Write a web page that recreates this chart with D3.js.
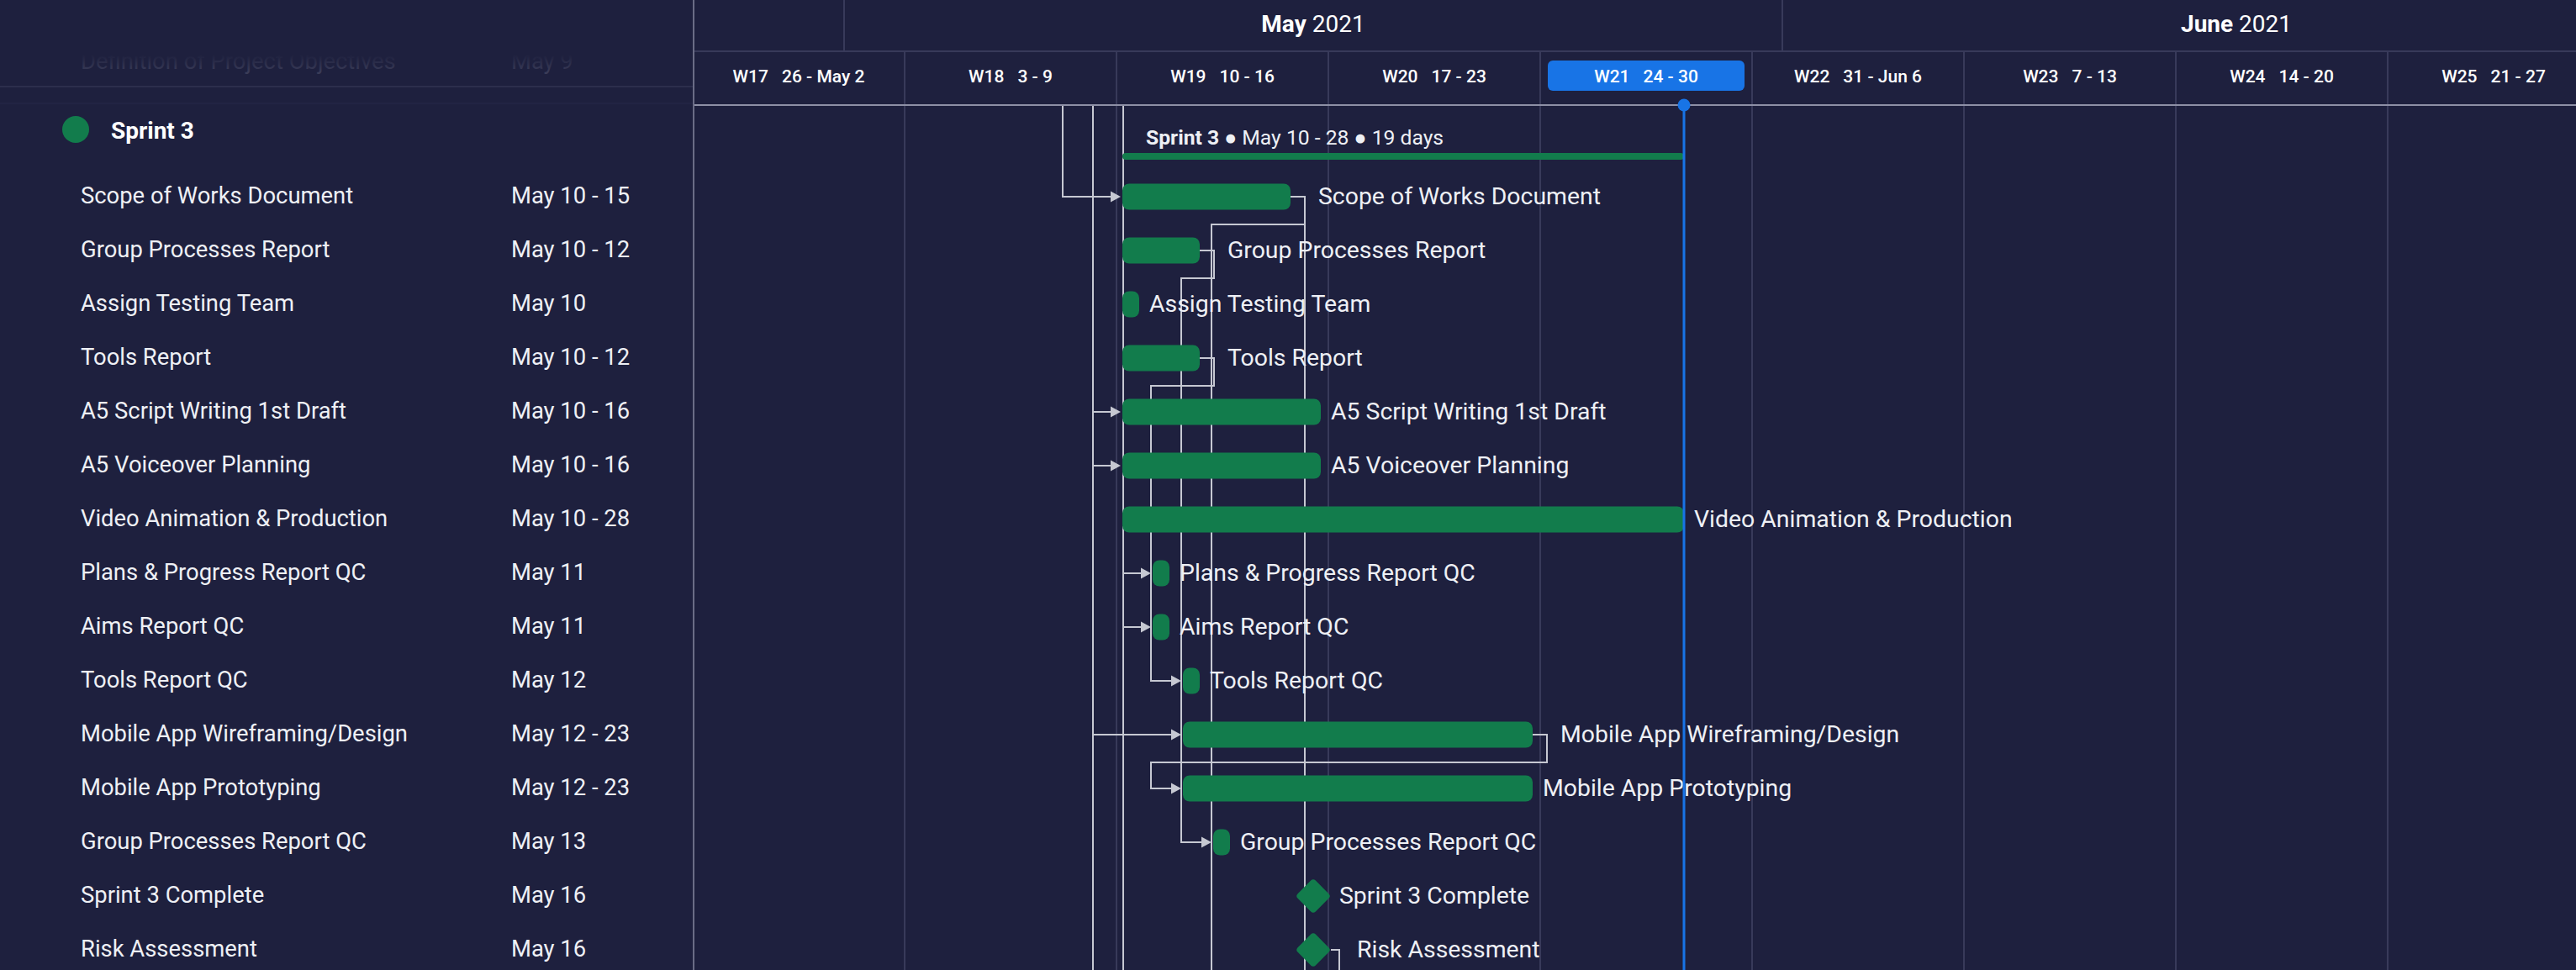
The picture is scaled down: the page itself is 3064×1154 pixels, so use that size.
<!DOCTYPE html>
<html>
<head>
<meta charset="utf-8">
<script src="https://cdn.jsdelivr.net/npm/d3@7/dist/d3.min.js"></script>
<style>
  html, body { margin:0; padding:0; background:#1e203e; overflow:hidden; }
  svg { display:block; font-family: Roboto, "Noto Sans", sans-serif; }
</style>
</head>
<body>
<svg id="gantt" width="3064" height="1154"></svg>
<script>
// ---------------- DATA ----------------
const groupName  = "Sprint 3";
const groupStart = "2021-05-10";
const groupEnd   = "2021-05-28";

const taskNames = [
  "Scope of Works Document", "Group Processes Report", "Assign Testing Team", "Tools Report",
  "A5 Script Writing 1st Draft", "A5 Voiceover Planning", "Video Animation & Production",
  "Plans & Progress Report QC", "Aims Report QC", "Tools Report QC",
  "Mobile App Wireframing/Design", "Mobile App Prototyping", "Group Processes Report QC",
  "Sprint 3 Complete", "Risk Assessment"
];
const taskStarts = [
  "2021-05-10", "2021-05-10", "2021-05-10", "2021-05-10",
  "2021-05-10", "2021-05-10", "2021-05-10",
  "2021-05-11", "2021-05-11", "2021-05-12",
  "2021-05-12", "2021-05-12", "2021-05-13",
  "2021-05-16", "2021-05-16"
];
const taskEnds = [
  "2021-05-15", "2021-05-12", "2021-05-10", "2021-05-12",
  "2021-05-16", "2021-05-16", "2021-05-28",
  "2021-05-11", "2021-05-11", "2021-05-12",
  "2021-05-23", "2021-05-23", "2021-05-13",
  "2021-05-16", "2021-05-16"
];
const taskKinds = [
  "task", "task", "task", "task", "task", "task", "task", "task", "task", "task",
  "task", "task", "task", "milestone", "milestone"
];

// rows scrolled out of view: previous sprint (above) and later tasks (below)
const aboveIds   = ["P1", "P2", "P3"];
const aboveNames = ["", "", "Definition of Project Objectives"];
const aboveEnds  = ["2021-05-07", "2021-05-08", "2021-05-09"];
const belowIds    = ["N1", "N2", "N3", "N4", "N5"];
const belowStarts = ["2021-05-17", "2021-05-17", "2021-05-17", "2021-05-14", "2021-05-18"];

// dependencies (finish -> start)
const linkFrom = ["P1", "P2", "P2", "P2", "P2", "P3", "P3", "P3",
  "Scope of Works Document", "Scope of Works Document", "Group Processes Report",
  "Tools Report", "Mobile App Wireframing/Design", "Risk Assessment"];
const linkTo = ["Scope of Works Document", "A5 Script Writing 1st Draft", "A5 Voiceover Planning",
  "Mobile App Wireframing/Design", "N1", "Plans & Progress Report QC", "Aims Report QC", "N2",
  "N3", "N4", "Group Processes Report QC",
  "Tools Report QC", "Mobile App Prototyping", "N5"];

const timelineStart = "2021-04-26";
const timelineEnd   = "2021-06-28";
const today = "2021-05-28T18:00";

// ---------------- SETUP ----------------
const W = 3064, H = 1154;
const panelW = 824;
const C = {
  bg: "#1e203e", grid: "#383a5a", headLine: "#8e90a6", green: "#127c4c",
  blue: "#1874e6", link: "#c6c8d2", text: "#eef0f5"
};
const parse = d3.utcParse("%Y-%m-%d");
const parseT = d3.utcParse("%Y-%m-%dT%H:%M");
const x = d3.scaleUtc().domain([parse(timelineStart), parse(timelineEnd)])
  .range([panelW, panelW + 63 * 36]);

const rowH = 64;
const taskY = i => 234 + rowH * i;
const groupY = 154;
const aboveY = k => 72 - rowH * (aboveIds.length - 1 - k);
const belowY = k => taskY(taskNames.length + 2 + k);

const fmtDay = d3.utcFormat("%-d"), fmtMonDay = d3.utcFormat("%b %-d");
function rangeLabel(s, e) {
  if (+s === +e) return fmtMonDay(s);
  if (s.getUTCMonth() === e.getUTCMonth()) return fmtMonDay(s) + " - " + fmtDay(e);
  return fmtMonDay(s) + " - " + fmtMonDay(e);
}

// node table
const nodes = new Map();
taskNames.forEach((n, i) => {
  const s = parse(taskStarts[i]), e = parse(taskEnds[i]);
  const ms = taskKinds[i] === "milestone";
  let x0, x1;
  if (ms) { const c = (x(s) + x(d3.utcDay.offset(s, 1))) / 2; x0 = c - 21; x1 = c + 21; }
  else { x0 = x(s) + 7; x1 = x(d3.utcDay.offset(e, 1)) - 9; }
  nodes.set(n, {name: n, s, e, ms, x0, x1, y: taskY(i), i});
});
aboveIds.forEach((id, k) => {
  const e = parse(aboveEnds[k]);
  nodes.set(id, {name: aboveNames[k], s: e, e, ms: false, x0: x(e) + 7, x1: x(d3.utcDay.offset(e, 1)) - 9, y: aboveY(k)});
});
belowIds.forEach((id, k) => {
  const s = parse(belowStarts[k]);
  nodes.set(id, {s, e: s, ms: false, x0: x(s) + 7, x1: x(d3.utcDay.offset(s, 1)) - 9, y: belowY(k)});
});
const hasSucc = new Set(linkFrom);

const svg = d3.select("#gantt");
svg.append("rect").attr("width", W).attr("height", H).attr("fill", C.bg);
const defs = svg.append("defs");
defs.append("clipPath").attr("id", "bodyClip").append("rect")
  .attr("x", panelW + 2).attr("y", 126).attr("width", W - panelW - 2).attr("height", H - 126);
defs.append("clipPath").attr("id", "headClip").append("rect")
  .attr("x", panelW + 2).attr("y", 0).attr("width", W - panelW - 2).attr("height", 126);

// ---------------- BODY ----------------
const body = svg.append("g").attr("clip-path", "url(#bodyClip)");
const weeks = d3.utcMonday.range(parse(timelineStart), parse(timelineEnd));

body.selectAll("line.grid").data(weeks).join("line").attr("class", "grid")
  .attr("x1", d => x(d)).attr("x2", d => x(d)).attr("y1", 125).attr("y2", H)
  .attr("stroke", C.grid).attr("stroke-width", 2);

// dependency lines
const links = linkFrom.map((f, i) => ({src: nodes.get(f), dst: nodes.get(linkTo[i])}));
function linkPath(l) {
  const s = l.src, t = l.dst;
  const lane = s.x1 + (s.ms ? 10 : 17);
  const tip = t.x0 - 2, base = tip - 11;
  if (t.x0 - lane >= 20)
    return `M${s.x1},${s.y}H${lane}V${t.y}H${base}`;
  const back = t.x0 - 38, mid = s.y + 33;
  return `M${s.x1},${s.y}H${lane}V${mid}H${back}V${t.y}H${base}`;
}
body.selectAll("path.link").data(links).join("path").attr("class", "link")
  .attr("d", linkPath).attr("fill", "none").attr("stroke", C.link).attr("stroke-width", 2);
body.selectAll("path.arrow").data(links).join("path").attr("class", "arrow")
  .attr("d", l => { const tip = l.dst.x0 - 2, y = l.dst.y; return `M${tip},${y}L${tip - 12},${y - 6.5}L${tip - 12},${y + 6.5}Z`; })
  .attr("fill", C.link);

// group summary
const gs = parse(groupStart), ge = parse(groupEnd);
const gx0 = x(gs) + 7, gx1 = x(d3.utcDay.offset(ge, 1)) - 9;
body.append("rect").attr("x", gx0).attr("y", 182).attr("width", gx1 - gx0).attr("height", 8)
  .attr("rx", 4).attr("fill", C.green);
const gText = body.append("text").attr("x", gx0 + 28).attr("y", 163).attr("dy", "0.35em")
  .attr("fill", C.text).attr("font-size", 24.7);
gText.append("tspan").attr("font-weight", 700).text(groupName);
gText.append("tspan").text(" \u25CF " + rangeLabel(gs, ge) + " \u25CF " + (d3.utcDay.count(gs, ge) + 1) + " days")
  .attr("font-weight", 400);

// bars
const taskNodes = taskNames.map(n => nodes.get(n));
body.selectAll("rect.bar").data(taskNodes.filter(d => !d.ms)).join("rect").attr("class", "bar")
  .attr("x", d => d.x0).attr("y", d => d.y - 15.5).attr("width", d => d.x1 - d.x0).attr("height", 31)
  .attr("rx", 8).attr("fill", C.green);
body.selectAll("rect.ms").data(taskNodes.filter(d => d.ms)).join("rect").attr("class", "ms")
  .attr("x", -15).attr("y", -15).attr("width", 30).attr("height", 30).attr("rx", 4)
  .attr("transform", d => `translate(${(d.x0 + d.x1) / 2},${d.y}) rotate(45)`)
  .attr("fill", C.green);
body.selectAll("text.lbl").data(taskNodes).join("text").attr("class", "lbl")
  .attr("x", d => d.x1 + (d.ms ? 10 : 12) + (hasSucc.has(d.name) ? 21 : 0))
  .attr("y", d => d.y - 0.5).attr("dy", "0.35em").attr("font-size", 28.4).attr("fill", C.text)
  .text(d => d.name);

// ---------------- HEADER ----------------
const head = svg.append("g").attr("clip-path", "url(#headClip)");
const months = d3.utcMonth.range(d3.utcMonth.floor(parse(timelineStart)), parse(timelineEnd));
head.selectAll("line.mdiv").data(months).join("line").attr("class", "mdiv")
  .attr("x1", d => x(d)).attr("x2", d => x(d)).attr("y1", 0).attr("y2", 61)
  .attr("stroke", C.grid).attr("stroke-width", 2);
const mText = head.selectAll("text.month").data(months).join("text").attr("class", "month")
  .attr("x", d => (x(d) + x(d3.utcMonth.offset(d, 1))) / 2).attr("y", 28).attr("dy", "0.35em")
  .attr("text-anchor", "middle").attr("font-size", 28).attr("fill", "#ffffff");
mText.append("tspan").attr("font-weight", 700).text(d => d3.utcFormat("%B")(d));
mText.append("tspan").attr("font-weight", 400).text(d => " " + d3.utcFormat("%Y")(d));

head.append("line").attr("x1", panelW).attr("x2", W).attr("y1", 61).attr("y2", 61)
  .attr("stroke", C.grid).attr("stroke-width", 2);
head.selectAll("line.wdiv").data(weeks).join("line").attr("class", "wdiv")
  .attr("x1", d => x(d)).attr("x2", d => x(d)).attr("y1", 61).attr("y2", 125)
  .attr("stroke", C.grid).attr("stroke-width", 2);

const todayD = parseT(today);
const curWeek = d3.utcMonday.floor(todayD);
head.append("rect").attr("x", x(curWeek) + 9).attr("y", 72)
  .attr("width", x(d3.utcDay.offset(curWeek, 7)) - x(curWeek) - 18).attr("height", 36)
  .attr("rx", 6).attr("fill", C.blue);

const wText = head.selectAll("text.week").data(weeks).join("text").attr("class", "week")
  .attr("x", d => (x(d) + x(d3.utcDay.offset(d, 7))) / 2).attr("y", 91).attr("dy", "0.35em")
  .attr("text-anchor", "middle").attr("font-size", 21).attr("font-weight", 500).attr("fill", "#ffffff");
wText.append("tspan").text(d => "W" + d3.utcFormat("%V")(d));
wText.append("tspan").attr("dx", 16).text(d => {
  const e = d3.utcDay.offset(d, 6);
  return fmtDay(d) + " - " + (e.getUTCMonth() === d.getUTCMonth() ? fmtDay(e) : fmtMonDay(e));
});
svg.append("line").attr("x1", panelW).attr("x2", W).attr("y1", 125).attr("y2", 125)
  .attr("stroke", C.headLine).attr("stroke-width", 2);

// ---------------- LEFT PANEL ----------------
const left = svg.append("g");
left.append("rect").attr("width", panelW).attr("height", H).attr("fill", C.bg);
const fade = defs.append("linearGradient").attr("id", "fadeTxt")
  .attr("gradientUnits", "userSpaceOnUse").attr("x1", 0).attr("x2", 0).attr("y1", 65).attr("y2", 86);
fade.append("stop").attr("offset", 0).attr("stop-color", C.bg);
fade.append("stop").attr("offset", 1).attr("stop-color", "#3a3c58");
aboveIds.forEach((id, k) => {
  const n = nodes.get(id);
  if (!n.name) return;
  left.append("text").attr("x", 96).attr("y", n.y).attr("dy", "0.35em").attr("font-size", 27.4)
    .attr("fill", "url(#fadeTxt)").text(n.name);
  left.append("text").attr("x", 608).attr("y", n.y).attr("dy", "0.35em").attr("font-size", 27.4)
    .attr("fill", "url(#fadeTxt)").text(rangeLabel(n.s, n.e));
});
left.append("line").attr("x1", 0).attr("x2", panelW).attr("y1", 103).attr("y2", 103)
  .attr("stroke", "#2c2e4c").attr("stroke-width", 2);
left.append("line").attr("x1", 0).attr("x2", panelW).attr("y1", 123).attr("y2", 123)
  .attr("stroke", "#222443").attr("stroke-width", 2);
left.append("circle").attr("cx", 90).attr("cy", groupY).attr("r", 16).attr("fill", C.green);
left.append("text").attr("x", 132).attr("y", groupY + 1).attr("dy", "0.35em").attr("font-size", 28)
  .attr("font-weight", 700).attr("fill", "#ffffff").text(groupName);
left.selectAll("text.tname").data(taskNodes).join("text").attr("class", "tname")
  .attr("x", 96).attr("y", d => d.y - 1.5).attr("dy", "0.35em").attr("font-size", 27.4)
  .attr("fill", C.text).text(d => d.name);
left.selectAll("text.tdate").data(taskNodes).join("text").attr("class", "tdate")
  .attr("x", 608).attr("y", d => d.y - 1.5).attr("dy", "0.35em").attr("font-size", 27.4)
  .attr("fill", C.text).text(d => rangeLabel(d.s, d.e));
svg.append("line").attr("x1", panelW + 1).attr("x2", panelW + 1).attr("y1", 0).attr("y2", H)
  .attr("stroke", "#6a6c86").attr("stroke-width", 2);

// ---------------- TODAY ----------------
const tx = x(todayD);
svg.append("line").attr("x1", tx).attr("x2", tx).attr("y1", 125).attr("y2", H)
  .attr("stroke", C.blue).attr("stroke-width", 3);
svg.append("circle").attr("cx", tx).attr("cy", 125).attr("r", 7.5).attr("fill", C.blue);
</script>
</body>
</html>
